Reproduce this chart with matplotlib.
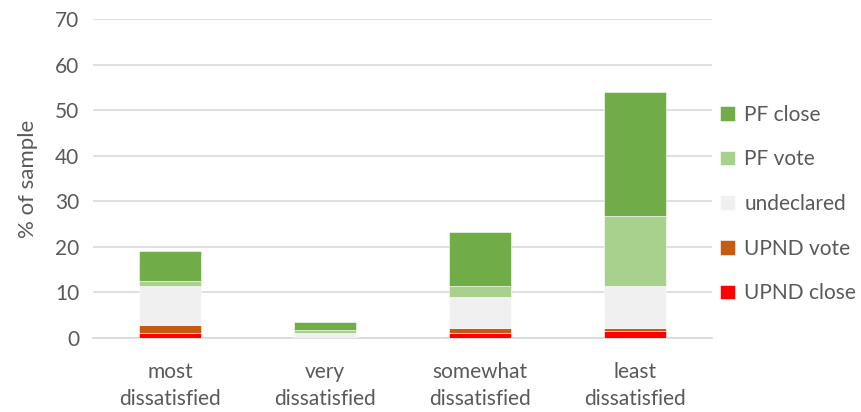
import matplotlib
matplotlib.use("Agg")
import matplotlib.pyplot as plt
import numpy as np

plt.rcParams['font.family'] = ['Lato', 'DejaVu Sans']

categories = ["most\ndissatisfied", "very\ndissatisfied", "somewhat\ndissatisfied", "least\ndissatisfied"]
upnd_close = [1.1, 0.0, 1.1, 1.5]
upnd_vote = [1.7, 0.1, 1.1, 0.6]
undeclared = [8.6, 1.1, 6.8, 9.3]
pf_vote = [1.1, 0.6, 2.4, 15.3]
pf_close = [6.7, 1.7, 11.9, 27.3]

series = [
    ("UPND close", upnd_close, "#FF0000"),
    ("UPND vote", upnd_vote, "#C55A11"),
    ("undeclared", undeclared, "#F0F0F0"),
    ("PF vote", pf_vote, "#A9D18E"),
    ("PF close", pf_close, "#70AD47"),
]

text_color = "#595959"
fig = plt.figure(figsize=(8.61, 4.12), dpi=100)
ax = fig.add_axes([93 / 861, 1 - 338 / 412, (712 - 93) / 861, (338 - 19) / 412])

x = np.arange(len(categories))
bottom = np.zeros(len(categories))
handles = []
for name, vals, color in series:
    vals = np.array(vals)
    b = ax.bar(x, vals, width=0.4, bottom=bottom, color=color, label=name,
               edgecolor="white", linewidth=0.4, zorder=3)
    handles.append(b)
    bottom += vals

ax.set_xlim(-0.5, len(categories) - 0.5)
ax.set_ylim(0, 70)
ax.set_yticks(range(0, 71, 10))
ax.grid(axis="y", color="#D9D9D9", linewidth=1.2, zorder=0)
for s in ["top", "right", "left"]:
    ax.spines[s].set_visible(False)
ax.spines["bottom"].set_color("#D9D9D9")
ax.spines["bottom"].set_linewidth(1.2)
ax.tick_params(axis="both", length=0, labelsize=15, colors=text_color, pad=10)
ax.tick_params(axis="x", pad=17)
ax.set_xticks(x)
ax.set_xticklabels(categories, linespacing=1.45)
ax.set_ylabel("% of sample", fontsize=16, color=text_color, labelpad=12)

leg = fig.legend(handles[::-1], [s[0] for s in series][::-1],
                 loc="center left", bbox_to_anchor=(716 / 861, 1 - 204 / 412),
                 frameon=False, fontsize=15, labelspacing=1.18,
                 handlelength=0.7, handleheight=0.7, handletextpad=0.45,
                 borderaxespad=0, borderpad=0.2)
for t in leg.get_texts():
    t.set_color(text_color)

fig.savefig("out.png", dpi=100)
